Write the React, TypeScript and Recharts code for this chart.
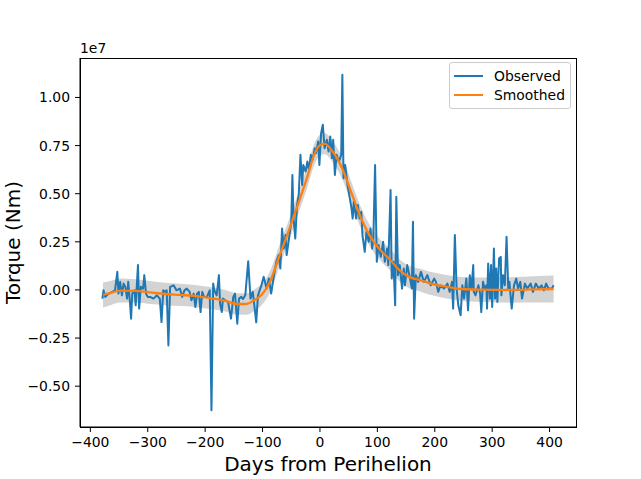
import React from "react";
import { ComposedChart, Line, Area, XAxis, YAxis } from "recharts";

// torque values are in units of 1e6 Nm
const observedDays = [
  -379, -377, -374, -368, -362, -357, -353, -351, -348, -345, -342, -339, -336, -334, -331, -329, -327, -323, -321,
  -317, -315, -312, -308, -306, -303, -300, -296, -290, -284, -279, -276, -273, -270, -267, -264, -261, -255, -250,
  -244, -240, -236, -232, -227, -224, -220, -217, -214, -211, -208, -205, -202, -197, -192, -189, -186, -184, -180,
  -176, -174, -171, -169, -165, -160, -155, -151, -148, -144, -141, -137, -134, -130, -125, -121, -117, -111, -108,
  -102, -98, -93, -89, -85, -81, -76, -72, -69, -66, -63, -60, -58, -54, -50, -48, -46, -43, -40, -37, -34, -31, -29,
  -25, -22, -19, -16, -13, -9, -7, -3, -1, 2, 5, 8, 12, 15, 18, 21, 23, 26, 29, 33, 37, 39, 41, 44, 48, 52, 55, 57,
  59, 63, 66, 69, 72, 74, 78, 81, 85, 88, 91, 93, 96, 99, 102, 106, 110, 113, 117, 119, 123, 125, 128, 131, 133, 136,
  139, 143, 146, 148, 152, 157, 160, 162, 164, 167, 171, 176, 181, 187, 193, 199, 202, 206, 210, 216, 222, 226, 230,
  232, 235, 238, 241, 245, 248, 251, 255, 258, 261, 264, 267, 268, 271, 276, 279, 281, 284, 287, 290, 291, 293, 296,
  298, 300, 303, 305, 307, 309, 312, 315, 316, 319, 322, 325, 328, 330, 334, 338, 342, 345, 349, 352, 357, 361, 367,
  371, 376, 381, 386, 390, 394, 398, 404, 407,
];
const observedTorque = [
  -0.45, -0.02, -0.36, -0.19, -0.1, -0.02, 0.94, -0.19, 0.42, -0.28, 0.33, 0.16, -0.45, 0.42, -0.63, -1.49, -0.19, -0.02,
  -0.8, 1.29, -0.97, 0.16, 0.07, 0.77, -0.19, -0.36, -0.36, -0.45, -0.28, -0.45, -1.67, -0.02, -0.1, -0.02, -2.88, 0.16,
  0.24, -0.02, 0.07, -0.36, -0.02, 0.07, -0.1, -0.54, -0.19, -0.89, -0.19, -0.1, -1.15, -0.1, -0.36, -0.36, -0.02,
  -6.25, 0.33, -0.02, -0.28, 0.77, -0.71, -1.15, -0.45, -0.54, -0.63, -1.49, -0.36, -0.19, -1.75, -0.45, -0.36, -0.47,
  -0.26, 1.49, -0.45, -0.1, -1.68, -0.28, 0.24, 0.68, 0.07, 0.59, -0.19, 0.59, 1.46, 1.81, 1.11, 3.19, 2.15, 2.85, 1.81,
  2.67, 3.54, 5.97, 3.71, 2.67, 4.41, 4.93, 7.02, 5.45, 6.49, 6.15, 6.67, 6.23, 7.02, 6.76, 7.36, 7.1, 7.71, 6.49, 8.14,
  8.58, 7.36, 7.8, 7.19, 7.97, 6.84, 7.8, 5.97, 7.02, 6.67, 7.02, 11.18, 5.8, 6.49, 5.45, 4.76, 4.23, 3.71, 4.58, 3.71,
  4.41, 3.71, 4.06, 2.85, 1.98, 3.02, 2.5, 3.19, 2.15, 2.67, 6.49, 1.46, 2.33, 1.72, 2.5, 1.46, 2.15, 1.29, 5.19, 0.59,
  1.46, -0.8, 4.84, 0.77, 1.29, 0.07, 1.11, 0.24, 1.29, 0.59, 0.07, 3.54, -1.49, 0.77, 0.42, 0.94, 0.42, 0.77, 0.24,
  0.59, 0.42, -0.1, 0.24, 0.07, 0.33, -0.1, 0.42, -0.97, 2.85, 0.07, -0.8, -1.32, 0.24, -0.45, 0.59, -1.06, 0.77, 0.07,
  1.29, -0.1, -0.28, 0.24, -0.19, -1.15, 0.42, 0.07, 0.24, -0.97, 1.37, -0.45, 1.29, -0.89, 2.15, -0.45, 1.11, -0.63,
  1.63, 1.72, -0.28, 0.77, 0.24, 2.76, 0.07, 0.42, -0.97, 0.24, 0.59, 0.07, 0.42, -0.45, 0.33, 0.07, 0.33, -0.1, 0.33,
  0.07, 0.24, -0.02, 0.33, 0.07, 0.07, 0.24,
];

const smoothDays = [
  -378, -365, -348, -322, -296, -270, -244, -218, -192, -166, -145, -128, -114, -102, -88, -70, -53, -41, -23, -10, -1,
  8, 22, 39, 56, 72, 86, 103, 121, 138, 155, 173, 190, 218, 247, 277, 334, 372, 407,
];
const smoothTorque = [
  -0.26, -0.16, -0.03, -0.05, -0.13, -0.21, -0.26, -0.31, -0.42, -0.55, -0.73, -0.73, -0.52, -0.26, 0.36, 1.82, 3.18,
  4.22, 5.78, 7.03, 7.5, 7.6, 7.19, 6.3, 4.95, 3.7, 2.86, 2.14, 1.61, 1.04, 0.68, 0.52, 0.36, 0.18, 0.05, 0.02, 0, 0.03,
  0.05,
];
const bandLow = [
  -0.91, -0.79, -0.65, -0.65, -0.73, -0.79, -0.84, -0.88, -0.99, -1.11, -1.29, -1.29, -1.08, -0.81, -0.19, 1.27, 2.63,
  3.67, 5.23, 6.48, 6.95, 7.05, 6.64, 5.75, 4.4, 3.15, 2.31, 1.59, 1.05, 0.47, 0.1, -0.07, -0.24, -0.43, -0.57, -0.61,
  -0.66, -0.65, -0.65,
];
const bandHigh = [
  0.39, 0.47, 0.59, 0.55, 0.47, 0.37, 0.32, 0.26, 0.15, 0.01, -0.17, -0.17, 0.04, 0.29, 0.91, 2.37, 3.73, 4.77, 6.33,
  7.58, 8.05, 8.15, 7.74, 6.85, 5.5, 4.25, 3.41, 2.69, 2.17, 1.61, 1.26, 1.11, 0.96, 0.79, 0.67, 0.65, 0.66, 0.71, 0.75,
];

const xTicks = [-400, -300, -200, -100, 0, 100, 200, 300, 400];
const yTicks = [-5e6, -2.5e6, 0, 2.5e6, 5e6, 7.5e6, 10e6];
const xDomain = [-418, 446];
const yDomain = [-7.12e6, 12.05e6];

const observed = observedDays.map((day, i) => ({ day, torque: observedTorque[i] * 1e6 }));
const smoothed = smoothDays.map((day, i) => ({
  day,
  torque: smoothTorque[i] * 1e6,
  band: [bandLow[i] * 1e6, bandHigh[i] * 1e6],
}));

const minus = (s: string) => s.replace("-", "\u2212");
const tickStyle = { fill: "#000", fontSize: 13.9 };

const LegendBox = () => (
  <div
    style={{
      position: "absolute",
      left: 449,
      top: 62,
      width: 120,
      height: 45,
      border: "1px solid #cccccc",
      borderRadius: 3,
      background: "rgba(255,255,255,0.8)",
      fontSize: 13.9,
    }}
  >
    {[
      { name: "Observed", color: "#1f77b4" },
      { name: "Smoothed", color: "#ff7f0e" },
    ].map((item, i) => (
      <div key={item.name} style={{ position: "absolute", left: 0, top: 3 + i * 19, height: 19, display: "flex", alignItems: "center" }}>
        <div style={{ marginLeft: 4, width: 29, height: 2, background: item.color }} />
        <span style={{ marginLeft: 11 }}>{item.name}</span>
      </div>
    ))}
  </div>
);

export default function App() {
  return (
    <div style={{ position: "relative", width: 641, height: 479, fontFamily: '"DejaVu Sans", sans-serif', background: "#fff" }}>
      <style>{`body { margin: 0; }`}</style>
      <ComposedChart width={641} height={479} data={smoothed} margin={{ top: 58, right: 65, bottom: 0, left: 0 }}>
        <XAxis
          dataKey="day"
          type="number"
          domain={xDomain}
          ticks={xTicks}
          allowDataOverflow
          height={52}
          tickSize={5}
          tickMargin={5}
          stroke="#000"
          tick={tickStyle}
          tickFormatter={(v) => minus(String(v))}
          label={{ value: "Days from Perihelion", position: "insideBottom", offset: 8, fontSize: 20, fill: "#000" }}
        />
        <YAxis
          type="number"
          domain={yDomain}
          ticks={yTicks}
          allowDataOverflow
          width={80}
          tickSize={5}
          tickMargin={5}
          stroke="#000"
          tick={tickStyle}
          tickFormatter={(v) => minus((v / 1e7).toFixed(2))}
          label={{ value: "Torque (Nm)", angle: -90, position: "insideLeft", offset: 13, fontSize: 20, fill: "#000", style: { textAnchor: "middle" } }}
        />
        <Area dataKey="band" type="monotone" fill="#d3d3d3" fillOpacity={1} stroke="none" isAnimationActive={false} activeDot={false} />
        <Line
          data={observed}
          dataKey="torque"
          type="linear"
          stroke="#1f77b4"
          strokeWidth={2}
          strokeLinejoin="round"
          dot={false}
          activeDot={false}
          isAnimationActive={false}
        />
        <Line dataKey="torque" type="monotone" stroke="#ff7f0e" strokeWidth={2.3} dot={false} activeDot={false} isAnimationActive={false} />
      </ComposedChart>
      {/* axes frame (top and right spines) */}
      <div
        style={{
          position: "absolute",
          left: 79.5,
          top: 57.5,
          width: 497,
          height: 370,
          boxSizing: "border-box",
          border: "1px solid #000",
          pointerEvents: "none",
        }}
      />
      <div style={{ position: "absolute", left: 80, top: 40, fontSize: 13.9 }}>1e7</div>
      <LegendBox />
    </div>
  );
}
